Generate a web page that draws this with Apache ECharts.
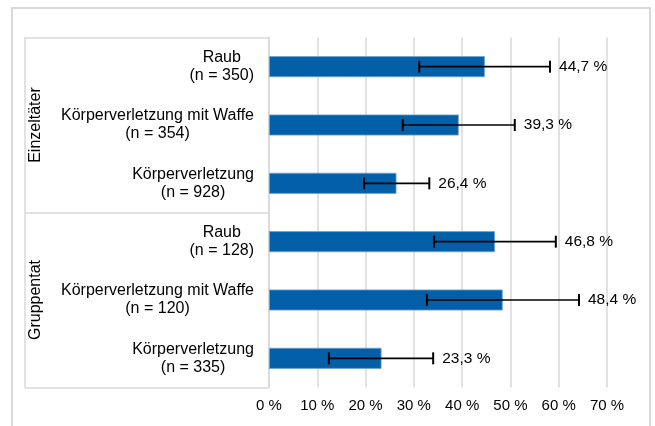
<!DOCTYPE html>
<html>
<head>
<meta charset="utf-8">
<script src="https://cdn.jsdelivr.net/npm/echarts@6/dist/echarts.min.js"></script>
<style>
    html, body { margin: 0; padding: 0; background: #fff; }
    #frame {
        position: absolute; left: 11px; top: 7px; width: 640px; height: 440px;
        border: 2px solid #d9d9d9; box-sizing: border-box;
    }
    #chart { position: absolute; left: 0; top: 0; width: 655px; height: 426px; }
</style>
</head>
<body>
<div id="frame"></div>
<div id="chart"></div>
<script>
// Daten
const groups = ['Einzeltäter', 'Gruppentat'];
const offences = ['Raub', 'Körperverletzung mit Waffe', 'Körperverletzung',
                  'Raub', 'Körperverletzung mit Waffe', 'Körperverletzung'];
const sampleSizes = [350, 354, 928, 128, 120, 335];
const shares = [44.7, 39.3, 26.4, 46.8, 48.4, 23.3];
const ciLower = [31.1, 27.7, 19.7, 34.2, 32.7, 12.4];
const ciUpper = [58.2, 50.9, 33.2, 59.4, 64.2, 34.0];
const xTicks = [0, 10, 20, 30, 40, 50, 60, 70];

const FONT = '"Liberation Sans", Arial, sans-serif';
const GRID_COLOR = '#d9d9d9';

document.addEventListener('DOMContentLoaded', function() {
    initChart();
});

function initChart() {
    const chart = echarts.init(document.getElementById('chart'));

    const categories = offences.map((o, i) => o + '\n(n = ' + sampleSizes[i] + ')');
    const errorData = shares.map((v, i) => [ciLower[i], ciUpper[i], i, v]);

    const option = {
        animation: false,
        textStyle: { fontFamily: FONT },
        grid: { left: 269, right: 48, top: 37.5, bottom: 38.5 },
        xAxis: {
            type: 'value',
            min: xTicks[0],
            max: xTicks[xTicks.length - 1],
            interval: 10,
            axisLine: { show: false },
            axisTick: { show: false },
            splitLine: { lineStyle: { color: GRID_COLOR, width: 1.5 } },
            axisLabel: {
                formatter: '{value} %',
                color: '#000',
                fontSize: 15,
                margin: 11,
                fontFamily: FONT
            }
        },
        yAxis: [
            {
                type: 'category',
                data: categories,
                inverse: true,
                axisLine: { show: true, lineStyle: { color: GRID_COLOR, width: 1.5 } },
                axisTick: { show: false },
                axisLabel: {
                    margin: 15,
                    align: 'right',
                    formatter: function(v) {
                        return v.split('\n').map(p => '{c|' + p + '}').join('\n');
                    },
                    rich: {
                        c: { align: 'center', fontSize: 16, lineHeight: 18, color: '#000', fontFamily: FONT }
                    }
                }
            },
            {
                type: 'category',
                data: groups,
                inverse: true,
                position: 'left',
                offset: 244,
                axisLine: { show: true, lineStyle: { color: GRID_COLOR, width: 1.5 } },
                axisTick: { show: true, inside: true, length: 244, lineStyle: { color: GRID_COLOR, width: 1.5 } },
                axisLabel: {
                    rotate: 90,
                    inside: true,
                    margin: 3,
                    fontSize: 16,
                    color: '#000',
                    fontFamily: FONT
                }
            }
        ],
        series: [
            {
                name: 'Anteil',
                type: 'bar',
                yAxisIndex: 0,
                data: shares,
                barWidth: 21,
                itemStyle: { color: '#0360a8', borderColor: '#6fa3d3', borderWidth: 0.8 }
            },
            {
                name: 'Konfidenzintervall',
                type: 'custom',
                yAxisIndex: 0,
                data: errorData,
                encode: { x: [0, 1], y: 2 },
                z: 5,
                renderItem: function(params, api) {
                    const idx = api.value(2);
                    const lo = api.coord([api.value(0), idx]);
                    const hi = api.coord([api.value(1), idx]);
                    const y = lo[1];
                    const cap = 6;
                    const style = { stroke: '#000', lineWidth: 2 };
                    const label = api.value(3).toFixed(1).replace('.', ',') + ' %';
                    return {
                        type: 'group',
                        children: [
                            { type: 'line', shape: { x1: lo[0], y1: y, x2: hi[0], y2: y }, style: { stroke: '#000', lineWidth: 1.6 } },
                            { type: 'line', shape: { x1: lo[0], y1: y - cap, x2: lo[0], y2: y + cap }, style: style },
                            { type: 'line', shape: { x1: hi[0], y1: y - cap, x2: hi[0], y2: y + cap }, style: style },
                            {
                                type: 'text',
                                x: hi[0] + 9,
                                y: y,
                                style: {
                                    text: label,
                                    fill: '#000',
                                    font: '15.5px ' + FONT,
                                    textAlign: 'left',
                                    textVerticalAlign: 'middle'
                                }
                            }
                        ]
                    };
                }
            }
        ]
    };

    chart.setOption(option);
    window.addEventListener('resize', () => chart.resize());
}
</script>
</body>
</html>
